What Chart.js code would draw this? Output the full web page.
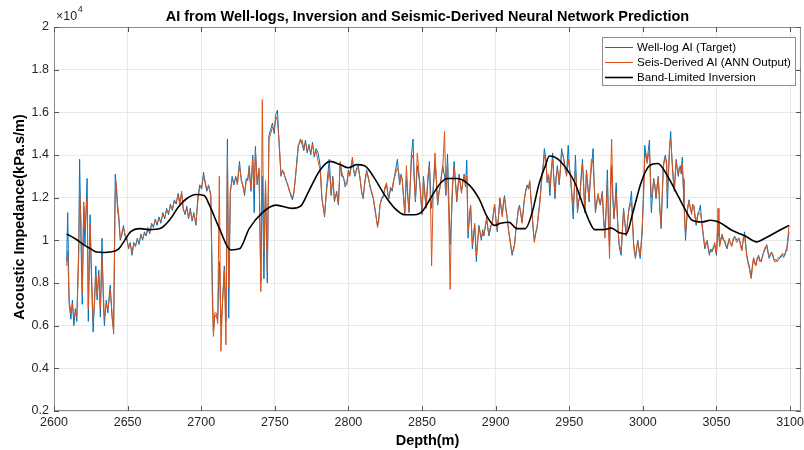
<!DOCTYPE html>
<html>
<head>
<meta charset="utf-8">
<script src="https://cdn.jsdelivr.net/npm/chart.js@4.4.1/dist/chart.umd.min.js"></script>
<style>
  html, body { margin: 0; padding: 0; background: #fff; overflow: hidden; }
  #wrap { width: 804px; height: 450px; overflow: hidden; }
  canvas { display: block; }
</style>
</head>
<body>
<div id="wrap"><canvas id="aiChart" width="808" height="450"></canvas></div>
<script>
// AI values are in units of 1e4 kPa.s/m (axis shows x10^4)
const depth = [
  2608.6, 2609.3, 2610.3, 2611.5, 2612.5, 2613.5, 2614.5, 2615.5, 2616.8, 2617.4,
  2618.3, 2619.2, 2620.2, 2621.0, 2622.5, 2623.3, 2624.5, 2625.5, 2626.6, 2627.5,
  2628.4, 2629.3, 2630.4, 2631.5, 2632.6, 2633.5, 2634.2, 2635.5, 2636.6, 2637.5,
  2638.2, 2639.4, 2640.5, 2641.6, 2642.3, 2643.2, 2644.0, 2645.0, 2646.0, 2647.2,
  2648.2, 2649.5, 2650.6, 2651.8, 2653.0, 2654.2, 2655.4, 2656.6, 2657.8, 2659.0,
  2660.2, 2661.4, 2662.6, 2663.8, 2665.0, 2666.3, 2667.5, 2668.8, 2670.0, 2671.3,
  2672.6, 2673.9, 2675.2, 2676.5, 2677.8, 2679.1, 2680.4, 2681.7, 2683.0, 2684.3,
  2685.5, 2686.7, 2687.8, 2689.0, 2690.2, 2691.4, 2692.6, 2693.8, 2695.0, 2696.4,
  2697.7, 2699.0, 2700.3, 2701.6, 2702.6, 2703.8, 2705.0, 2706.5, 2707.6, 2708.3,
  2709.2, 2710.2, 2711.2, 2712.3, 2713.4, 2714.5, 2715.7, 2716.8, 2717.8, 2718.7,
  2719.8, 2721.0, 2722.2, 2723.4, 2724.6, 2726.0, 2727.2, 2728.3, 2729.4, 2730.6,
  2731.6, 2732.6, 2733.8, 2735.0, 2736.0, 2736.8, 2738.0, 2739.3, 2740.5, 2741.5,
  2742.6, 2743.7, 2744.9, 2746.0, 2747.2, 2748.4, 2749.6, 2750.7, 2751.8, 2753.0,
  2754.2, 2755.2, 2756.2, 2757.4, 2758.6, 2759.8, 2760.8, 2762.0, 2763.0, 2764.0,
  2765.0, 2766.0, 2767.4, 2768.5, 2769.7, 2770.8, 2772.0, 2773.2, 2774.4, 2775.6,
  2776.8, 2778.0, 2779.4, 2780.8, 2782.0, 2783.8, 2785.3, 2787.0, 2788.3, 2789.4,
  2790.5, 2792.0, 2793.2, 2794.4, 2795.5, 2796.6, 2797.8, 2798.9, 2800.0, 2801.0,
  2802.7, 2803.6, 2804.5, 2805.6, 2806.7, 2808.0, 2809.0, 2810.0, 2811.2, 2812.4,
  2813.5, 2814.6, 2815.8, 2816.9, 2818.5, 2819.8, 2820.6, 2821.4, 2822.5, 2823.6,
  2824.8, 2825.9, 2826.8, 2827.5, 2828.6, 2829.7, 2830.6, 2831.5, 2833.3, 2834.2,
  2834.9, 2835.7, 2836.5, 2838.3, 2839.4, 2840.3, 2841.2, 2842.8, 2843.9, 2844.7,
  2845.5, 2846.8, 2848.4, 2850.0, 2851.0, 2852.7, 2854.0, 2855.0, 2856.0, 2856.5,
  2857.6, 2858.8, 2859.7, 2860.6, 2861.5, 2862.4, 2863.2, 2864.0, 2865.3, 2866.2,
  2867.3, 2868.2, 2869.1, 2870.0, 2870.7, 2871.8, 2872.7, 2873.6, 2874.4, 2875.2,
  2876.0, 2876.8, 2877.7, 2878.6, 2879.5, 2880.4, 2881.3, 2882.2, 2883.0, 2884.2,
  2885.0, 2885.8, 2886.9, 2887.8, 2888.7, 2889.5, 2890.3, 2891.2, 2892.0, 2893.0,
  2893.9, 2894.7, 2895.5, 2896.6, 2897.7, 2898.5, 2899.3, 2900.2, 2901.1, 2902.0,
  2902.9, 2903.7, 2904.5, 2905.3, 2906.0, 2907.0, 2907.9, 2908.8, 2909.7, 2910.5,
  2911.2, 2912.0, 2912.8, 2913.7, 2914.6, 2915.4, 2916.2, 2917.1, 2918.0, 2918.8,
  2919.6, 2920.5, 2921.4, 2922.3, 2923.2, 2924.0, 2924.8, 2925.5, 2926.3, 2927.2,
  2928.1, 2929.0, 2930.0, 2930.8, 2931.5, 2932.4, 2933.1, 2934.2, 2935.0, 2936.0,
  2936.9, 2937.8, 2938.7, 2939.5, 2940.3, 2941.1, 2941.9, 2942.6, 2943.2, 2944.0,
  2944.8, 2945.6, 2946.4, 2947.3, 2948.2, 2949.3, 2950.1, 2950.9, 2951.8, 2952.7,
  2953.5, 2954.2, 2955.0, 2955.6, 2956.4, 2957.2, 2958.1, 2959.0, 2959.8, 2960.6,
  2961.7, 2962.6, 2963.5, 2964.3, 2965.1, 2966.2, 2967.0, 2967.8, 2968.7, 2969.6,
  2970.4, 2971.1, 2972.5, 2973.4, 2974.3, 2975.1, 2975.9, 2976.7, 2977.4, 2978.1,
  2978.8, 2979.6, 2980.4, 2981.2, 2981.9, 2982.8, 2983.8, 2984.5, 2985.3, 2986.1,
  2986.9, 2987.8, 2988.7, 2989.6, 2990.5, 2991.4, 2992.3, 2993.0, 2993.7, 2994.4,
  2995.0, 2995.8, 2996.6, 2997.4, 2998.2, 2998.9, 2999.5, 3000.4, 3001.3, 3002.1,
  3002.9, 3003.7, 3004.5, 3005.2, 3005.8, 3006.6, 3007.4, 3008.2, 3009.0, 3009.7,
  3010.5, 3011.5, 3012.4, 3013.2, 3013.9, 3014.6, 3015.3, 3016.2, 3016.6, 3017.4,
  3018.2, 3018.9, 3019.5, 3020.0, 3020.7, 3021.4, 3022.0, 3022.7, 3023.4, 3024.1,
  3024.7, 3025.4, 3026.1, 3026.8, 3027.3, 3027.9, 3028.5, 3029.0, 3029.6, 3030.1,
  3030.7, 3031.3, 3032.2, 3033.1, 3033.8, 3034.6, 3035.4, 3036.2, 3036.9, 3037.6,
  3038.3, 3039.1, 3039.9, 3040.7, 3041.4, 3042.1, 3042.9, 3043.7, 3044.4, 3045.2,
  3046.1, 3047.0, 3047.9, 3048.8, 3049.4, 3050.0, 3050.6, 3051.1, 3051.7, 3052.2,
  3053.0, 3053.8, 3054.7, 3055.6, 3056.4, 3057.2, 3057.9, 3058.7, 3059.6, 3060.5,
  3061.4, 3062.3, 3063.1, 3063.9, 3064.7, 3065.5, 3066.4, 3067.3, 3068.2, 3069.1,
  3069.9, 3070.7, 3071.5, 3072.3, 3073.0, 3073.6, 3074.4, 3075.2, 3076.0, 3076.8,
  3077.7, 3078.6, 3079.5, 3080.4, 3081.3, 3082.2, 3083.2, 3084.2, 3085.0, 3085.8,
  3086.7, 3087.6, 3088.5, 3089.4, 3090.3, 3091.2, 3092.1, 3093.0, 3093.9, 3094.8,
  3095.7, 3096.6, 3097.3, 3097.9, 3098.6, 3099.3
];

const wellAI = [
  0.90, 1.13, 0.70, 0.63, 0.72, 0.60, 0.68, 0.62, 0.98, 1.38,
  1.00, 0.70, 1.16, 0.98, 1.29, 0.62, 1.12, 0.80, 0.57, 0.72,
  0.88, 0.72, 0.86, 0.64, 1.01, 0.72, 0.60, 0.72, 0.66, 0.74,
  0.79, 0.64, 0.58, 1.31, 1.25, 1.14, 1.10, 1.00, 1.03, 1.07,
  1.02, 1.01, 0.96, 0.99, 0.93, 0.99, 0.97, 1.01, 0.98, 1.03,
  1.00, 1.04, 1.02, 1.06, 1.03, 1.08, 1.06, 1.10, 1.07, 1.11,
  1.08, 1.13, 1.10, 1.15, 1.12, 1.17, 1.14, 1.19, 1.17, 1.22,
  1.18, 1.22, 1.15, 1.12, 1.16, 1.10, 1.15, 1.09, 1.13, 1.07,
  1.20, 1.26, 1.24, 1.32, 1.27, 1.23, 1.26, 1.21, 0.80, 0.57,
  0.65, 0.64, 0.63, 0.90, 0.60, 0.71, 0.88, 0.62, 1.475, 0.635,
  1.22, 1.30, 1.26, 1.30, 1.27, 1.37, 1.28, 1.26, 1.21, 1.29,
  1.28, 1.35, 1.23, 1.40, 1.13, 1.44, 1.26, 1.33, 0.80, 1.30,
  0.82, 1.26, 0.80, 1.49, 1.52, 1.55, 1.50, 1.59, 1.61, 1.44,
  1.30, 1.33, 1.31, 1.29, 1.26, 1.24, 1.21, 1.19, 1.23, 1.29,
  1.38, 1.44, 1.475, 1.45, 1.42, 1.47, 1.41, 1.45, 1.40, 1.46,
  1.39, 1.43, 1.41, 1.35, 1.20, 1.11, 1.26, 1.38, 1.21, 1.30,
  1.18, 1.23, 1.165, 1.36, 1.30, 1.30, 1.25, 1.27, 1.33, 1.31,
  1.38, 1.33, 1.30, 1.34, 1.35, 1.28, 1.23, 1.195, 1.28, 1.33,
  1.29, 1.26, 1.22, 1.195, 1.12, 1.07, 1.10, 1.165, 1.19, 1.21,
  1.24, 1.26, 1.22, 1.195, 1.25, 1.23, 1.27, 1.31, 1.38, 1.30,
  1.26, 1.31, 1.29, 1.12, 1.30, 1.20, 1.13, 1.40, 1.475, 1.30,
  1.18, 1.35, 1.27, 1.12, 1.30, 1.15, 1.28, 1.37, 1.20, 1.15,
  1.25, 1.36, 1.28, 1.165, 1.22, 1.26, 1.30, 1.35, 1.30, 1.21,
  1.405, 1.20, 0.98, 1.10, 1.24, 1.37, 1.28, 1.18, 1.25, 1.31,
  1.26, 1.23, 1.27, 1.31, 1.25, 1.375, 1.01, 1.12, 1.165, 0.96,
  1.02, 1.07, 0.90, 1.00, 1.07, 1.03, 1.00, 1.05, 1.02, 1.07,
  1.10, 1.06, 1.02, 1.06, 1.085, 1.13, 1.165, 1.10, 1.04, 1.12,
  1.195, 1.15, 1.12, 1.17, 1.21, 1.15, 1.10, 1.05, 1.00, 0.96,
  0.93, 0.96, 0.98, 1.04, 1.10, 1.14, 1.165, 1.12, 1.085, 1.14,
  1.195, 1.23, 1.26, 1.24, 1.27, 1.20, 1.13, 1.05, 1.00, 1.03,
  1.055, 1.12, 1.18, 1.25, 1.31, 1.36, 1.43, 1.38, 1.27, 1.30,
  1.21, 1.32, 1.41, 1.30, 1.195, 1.29, 1.35, 1.30, 1.26, 1.34,
  1.43, 1.40, 1.38, 1.33, 1.31, 1.445, 1.35, 1.29, 1.20, 1.10,
  1.25, 1.40, 1.25, 1.13, 1.18, 1.21, 1.30, 1.38, 1.25, 1.13,
  1.33, 1.25, 1.18, 1.28, 1.34, 1.43, 1.25, 1.13, 1.18, 1.21,
  1.19, 1.165, 1.23, 1.10, 1.05, 1.15, 1.33, 1.10, 0.97, 1.20,
  1.35, 1.20, 1.10, 1.18, 1.27, 1.10, 0.98, 0.95, 0.93, 1.05,
  1.15, 1.08, 1.02, 1.08, 1.15, 1.18, 1.23, 1.10, 0.98, 0.94,
  0.915, 0.96, 1.00, 0.95, 0.915, 0.98, 1.04, 1.21, 1.445, 1.40,
  1.37, 1.42, 1.47, 1.25, 1.13, 1.22, 1.29, 1.25, 1.195, 1.25,
  1.30, 1.15, 1.055, 1.20, 1.35, 1.38, 1.40, 1.35, 1.15, 1.30,
  1.44, 1.51, 1.42, 1.35, 1.28, 1.23, 1.30, 1.38, 1.33, 1.30,
  1.33, 1.35, 1.31, 1.39, 1.28, 1.18, 1.08, 1.00, 1.08, 1.12,
  1.17, 1.19, 1.15, 1.13, 1.16, 1.165, 1.12, 1.07, 1.10, 1.13,
  1.14, 1.165, 1.09, 1.04, 1.00, 0.96, 0.98, 1.00, 0.96, 0.93,
  0.96, 0.945, 0.97, 0.98, 0.95, 0.93, 1.00, 1.08, 1.02, 0.98,
  1.00, 1.02, 1.00, 1.00, 0.98, 0.96, 0.98, 1.00, 0.99, 0.98,
  1.00, 1.02, 1.01, 1.00, 1.00, 1.005, 0.98, 0.96, 1.00, 1.04,
  0.98, 0.93, 0.90, 0.88, 0.85, 0.83, 0.88, 0.915, 0.90, 0.885,
  0.91, 0.93, 0.91, 0.90, 0.93, 0.945, 0.96, 0.98, 0.95, 0.915,
  0.93, 0.945, 0.92, 0.905, 0.91, 0.90, 0.91, 0.915, 0.93, 0.93,
  0.92, 0.94, 0.95, 0.96, 1.00, 1.04
];

const seisAI = [
  0.88, 0.95, 0.72, 0.66, 0.70, 0.64, 0.66, 0.64, 0.92, 1.23,
  1.10, 0.75, 1.18, 1.05, 1.20, 0.68, 1.08, 0.85, 0.62, 0.70,
  0.84, 0.74, 0.84, 0.68, 0.92, 0.76, 0.64, 0.70, 0.68, 0.72,
  0.77, 0.66, 0.56, 1.22, 1.27, 1.17, 1.12, 1.01, 1.02, 1.06,
  1.03, 1.00, 0.97, 0.98, 0.94, 0.98, 0.98, 1.00, 0.99, 1.02,
  1.01, 1.03, 1.03, 1.05, 1.04, 1.07, 1.07, 1.09, 1.08, 1.10,
  1.09, 1.12, 1.11, 1.14, 1.13, 1.16, 1.15, 1.18, 1.18, 1.21,
  1.17, 1.23, 1.14, 1.13, 1.15, 1.11, 1.14, 1.10, 1.12, 1.08,
  1.18, 1.25, 1.25, 1.30, 1.28, 1.24, 1.25, 1.22, 0.70, 0.55,
  0.66, 0.66, 0.61, 1.30, 0.48, 0.72, 0.86, 0.51, 1.40, 0.78,
  1.24, 1.28, 1.28, 1.29, 1.26, 1.35, 1.29, 1.25, 1.22, 1.28,
  1.29, 1.33, 1.24, 1.38, 1.25, 1.42, 1.27, 1.34, 0.76, 1.66,
  0.95, 1.28, 0.85, 1.47, 1.50, 1.53, 1.52, 1.58, 1.56, 1.46,
  1.31, 1.32, 1.32, 1.28, 1.27, 1.23, 1.22, 1.20, 1.22, 1.30,
  1.36, 1.45, 1.46, 1.47, 1.43, 1.46, 1.42, 1.44, 1.41, 1.45,
  1.40, 1.42, 1.37, 1.33, 1.19, 1.12, 1.24, 1.33, 1.22, 1.29,
  1.19, 1.22, 1.17, 1.37, 1.32, 1.29, 1.27, 1.26, 1.32, 1.30,
  1.39, 1.32, 1.31, 1.33, 1.34, 1.29, 1.22, 1.20, 1.27, 1.32,
  1.30, 1.25, 1.23, 1.20, 1.13, 1.06, 1.09, 1.16, 1.20, 1.20,
  1.25, 1.27, 1.21, 1.20, 1.24, 1.24, 1.28, 1.30, 1.34, 1.32,
  1.27, 1.30, 1.29, 1.13, 1.35, 1.22, 1.14, 1.38, 1.40, 1.28,
  1.19, 1.41, 1.28, 1.13, 1.28, 1.16, 1.30, 1.35, 1.10, 0.88,
  1.22, 1.41, 1.30, 1.17, 1.23, 1.25, 1.31, 1.33, 1.51, 1.22,
  1.36, 1.10, 0.77, 1.12, 1.26, 1.34, 1.27, 1.19, 1.24, 1.30,
  1.27, 1.22, 1.28, 1.30, 1.26, 1.30, 1.04, 1.10, 1.16, 0.98,
  1.03, 1.08, 0.93, 0.99, 1.06, 1.04, 1.01, 1.04, 1.03, 1.06,
  1.11, 1.05, 1.03, 1.07, 1.08, 1.12, 1.17, 1.09, 1.05, 1.11,
  1.20, 1.16, 1.11, 1.18, 1.20, 1.14, 1.11, 1.04, 1.01, 0.97,
  0.94, 0.95, 0.97, 1.05, 1.09, 1.15, 1.16, 1.13, 1.08, 1.15,
  1.20, 1.24, 1.25, 1.25, 1.28, 1.19, 1.12, 1.06, 0.99, 1.04,
  1.06, 1.11, 1.17, 1.24, 1.30, 1.34, 1.40, 1.37, 1.28, 1.31,
  1.25, 1.33, 1.38, 1.29, 1.22, 1.30, 1.33, 1.31, 1.27, 1.33,
  1.40, 1.41, 1.37, 1.34, 1.30, 1.38, 1.34, 1.30, 1.22, 1.16,
  1.24, 1.33, 1.26, 1.14, 1.19, 1.20, 1.29, 1.36, 1.26, 1.14,
  1.32, 1.26, 1.19, 1.30, 1.38, 1.36, 1.26, 1.14, 1.17, 1.22,
  1.18, 1.17, 1.22, 1.08, 1.01, 1.14, 1.27, 1.05, 0.915, 1.30,
  1.475, 1.22, 1.11, 1.17, 1.22, 1.09, 0.99, 0.97, 0.95, 1.04,
  1.14, 1.09, 1.03, 1.09, 1.14, 1.16, 1.18, 1.08, 0.99, 0.95,
  0.92, 0.97, 0.99, 0.96, 0.93, 0.99, 1.05, 1.18, 1.38, 1.41,
  1.36, 1.40, 1.42, 1.30, 1.20, 1.23, 1.28, 1.26, 1.20, 1.26,
  1.29, 1.16, 1.07, 1.22, 1.34, 1.37, 1.39, 1.36, 1.22, 1.32,
  1.45, 1.47, 1.41, 1.36, 1.29, 1.24, 1.31, 1.37, 1.34, 1.31,
  1.34, 1.34, 1.32, 1.36, 1.29, 1.19, 1.10, 1.03, 1.07, 1.13,
  1.16, 1.18, 1.16, 1.12, 1.17, 1.16, 1.11, 1.08, 1.11, 1.12,
  1.13, 1.12, 1.10, 1.05, 1.01, 0.97, 0.99, 0.99, 0.97, 0.94,
  0.95, 0.95, 0.96, 0.99, 0.96, 0.94, 1.05, 1.15, 1.03, 0.97,
  1.01, 1.03, 1.01, 0.99, 0.97, 0.97, 0.99, 1.01, 0.98, 0.97,
  1.01, 1.01, 1.00, 0.99, 1.01, 1.01, 0.97, 0.95, 1.01, 1.02,
  0.97, 0.92, 0.89, 0.87, 0.84, 0.82, 0.87, 0.92, 0.89, 0.88,
  0.92, 0.92, 0.90, 0.91, 0.92, 0.95, 0.97, 0.97, 0.94, 0.92,
  0.94, 0.94, 0.93, 0.90, 0.90, 0.91, 0.92, 0.92, 0.92, 0.94,
  0.93, 0.93, 0.96, 0.97, 1.02, 1.07
];

// band-limited inversion (smooth trend)
const invDepth = [
  2608.6, 2615, 2620, 2625, 2629, 2634, 2638, 2644, 2648, 2652,
  2658.6, 2665, 2672, 2679, 2684.5, 2690, 2696.6, 2702, 2705.6, 2712.4,
  2720, 2726, 2732.6, 2741.6, 2750.7, 2762, 2767.5, 2773, 2780.8, 2787.6,
  2794.4, 2800, 2805.6, 2811, 2816.9, 2824.8, 2831.5, 2838.3, 2845, 2850.7,
  2856, 2862.8, 2867.3, 2874, 2882, 2888.7, 2894.3, 2899.3, 2903.4, 2909,
  2914.6, 2920.2, 2924.8, 2929.3, 2933.8, 2936.5, 2941.4, 2948.2, 2953.8, 2959.4,
  2963.9, 2967.3, 2972.9, 2978.6, 2984.2, 2988.7, 2993.2, 2998.8, 3004.5, 3010.1,
  3016.9, 3022.3, 3027.9, 3033.5, 3040.3, 3045.9, 3051.5, 3060.5, 3069.6, 3077.4,
  3083, 3092, 3099.3
];
const invAI = [
  1.03, 1.005, 0.98, 0.96, 0.945, 0.943, 0.945, 0.96, 1.00, 1.04,
  1.055, 1.05, 1.055, 1.10, 1.156, 1.195, 1.215, 1.21, 1.165, 1.055,
  0.955, 0.96, 1.055, 1.13, 1.165, 1.15, 1.16, 1.23, 1.33, 1.37,
  1.355, 1.34, 1.355, 1.35, 1.30, 1.21, 1.15, 1.12, 1.12, 1.14,
  1.20, 1.27, 1.29, 1.29, 1.26, 1.195, 1.11, 1.07, 1.08, 1.085,
  1.055, 1.055, 1.13, 1.26, 1.35, 1.395, 1.385, 1.335, 1.27, 1.165,
  1.085, 1.05, 1.05, 1.057, 1.035, 1.03, 1.13, 1.27, 1.35, 1.36,
  1.30, 1.23, 1.156, 1.094, 1.086, 1.094, 1.086, 1.047, 1.02, 0.993,
  1.01, 1.044, 1.07
];

const xTicks = [2600, 2650, 2700, 2750, 2800, 2850, 2900, 2950, 3000, 3050, 3100];
const yTicks = [0.2, 0.4, 0.6, 0.8, 1, 1.2, 1.4, 1.6, 1.8, 2];

const seriesNames = ["Well-log AI (Target)", "Seis-Derived AI (ANN Output)", "Band-Limited Inversion"];
const seriesColors = ["#0072BD", "#D95319", "#000000"];

const toPoints = (xs, ys) => xs.map((x, i) => ({ x: x, y: ys[i] }));

const FONT = "'Liberation Sans', Arial, Helvetica, sans-serif";

// draws the MATLAB style box, ticks, labels and legend
const decorPlugin = {
  id: "decor",
  beforeDatasetsDraw(chart) {
    const { ctx, chartArea: a, scales } = chart;
    ctx.save();
    ctx.strokeStyle = "#8c8c8c";
    ctx.lineWidth = 1;
    ctx.beginPath();
    ctx.rect(a.left + 0.5, a.top + 0.5, a.right - a.left - 1, a.bottom - a.top - 1);
    ctx.stroke();
    ctx.strokeStyle = "#555";
    ctx.beginPath();
    xTicks.forEach((v) => {
      const px = Math.round(scales.x.getPixelForValue(v)) + 0.5;
      ctx.moveTo(px, a.bottom);
      ctx.lineTo(px, a.bottom - 5);
      ctx.moveTo(px, a.top);
      ctx.lineTo(px, a.top + 5);
    });
    yTicks.forEach((v) => {
      const py = Math.round(scales.y.getPixelForValue(v)) + 0.5;
      ctx.moveTo(a.left, py);
      ctx.lineTo(a.left + 5, py);
      ctx.moveTo(a.right, py);
      ctx.lineTo(a.right - 5, py);
    });
    ctx.stroke();
    ctx.restore();
  },
  afterDraw(chart) {
    const { ctx, chartArea: a } = chart;
    const cx = (a.left + a.right) / 2;
    ctx.save();

    // title
    ctx.fillStyle = "#000";
    ctx.font = "bold 14.5px " + FONT;
    ctx.textAlign = "center";
    ctx.textBaseline = "middle";
    ctx.fillText("AI from Well-logs, Inversion and Seismic-Derived Neural Network Prediction", cx, 17);

    // axis titles
    ctx.font = "bold 14.5px " + FONT;
    ctx.fillText("Depth(m)", cx, 441);
    ctx.save();
    ctx.translate(20, (a.top + a.bottom) / 2 - 2);
    ctx.rotate(-Math.PI / 2);
    ctx.fillText("Acoustic Impedance(kPa.s/m)", 0, 0);
    ctx.restore();

    // exponent label
    ctx.fillStyle = "#262626";
    ctx.textAlign = "left";
    ctx.textBaseline = "alphabetic";
    ctx.font = "12.5px " + FONT;
    ctx.fillText("\u00d710", 56, 20);
    const w = ctx.measureText("\u00d710").width;
    ctx.font = "9px " + FONT;
    ctx.fillText("4", 56 + w + 0.5, 12);

    // legend box
    const lx = 602, ly = 37, lw = 193, lh = 48;
    ctx.fillStyle = "#fff";
    ctx.fillRect(lx, ly, lw, lh);
    ctx.strokeStyle = "#8c8c8c";
    ctx.lineWidth = 1;
    ctx.strokeRect(lx + 0.5, ly + 0.5, lw, lh);
    ctx.font = "11.6px " + FONT;
    ctx.textBaseline = "middle";
    const rows = [47, 62, 77];
    seriesNames.forEach((name, i) => {
      ctx.strokeStyle = seriesColors[i];
      ctx.lineWidth = i === 2 ? 1.6 : 1;
      ctx.beginPath();
      ctx.moveTo(605, rows[i] + 0.5);
      ctx.lineTo(633, rows[i] + 0.5);
      ctx.stroke();
      ctx.fillStyle = "#000";
      ctx.fillText(name, 637, rows[i] + 1);
    });
    ctx.restore();
  },
};

new Chart(document.getElementById("aiChart"), {
  type: "line",
  data: {
    datasets: [
      {
        label: seriesNames[0],
        data: toPoints(depth, wellAI),
        borderColor: seriesColors[0],
        borderWidth: 1,
        pointRadius: 0,
        tension: 0,
        order: 3,
      },
      {
        label: seriesNames[1],
        data: toPoints(depth, seisAI),
        borderColor: seriesColors[1],
        borderWidth: 1,
        pointRadius: 0,
        tension: 0,
        order: 2,
      },
      {
        label: seriesNames[2],
        data: toPoints(invDepth, invAI),
        borderColor: seriesColors[2],
        borderWidth: 1.6,
        pointRadius: 0,
        cubicInterpolationMode: "monotone",
        order: 1,
      },
    ],
  },
  options: {
    responsive: false,
    animation: false,
    devicePixelRatio: 1,
    layout: { padding: { top: 27, right: 3, bottom: 0, left: 0 } },
    plugins: {
      legend: { display: false },
      title: { display: false },
      tooltip: { enabled: false },
    },
    scales: {
      x: {
        type: "linear",
        min: 2600,
        max: 3107.4,
        afterBuildTicks: (scale) => {
          scale.ticks = xTicks.map((v) => ({ value: v }));
        },
        afterFit: (scale) => {
          scale.height = 39;
        },
        grid: { color: "#e8e8e8", drawTicks: false },
        border: { display: false },
        ticks: {
          padding: 4,
          color: "#262626",
          maxRotation: 0,
          autoSkip: false,
          font: { family: FONT, size: 12.5 },
          callback: (v) => String(v),
        },
      },
      y: {
        min: 0.2,
        max: 2,
        afterBuildTicks: (scale) => {
          scale.ticks = yTicks.map((v) => ({ value: v }));
        },
        afterFit: (scale) => {
          scale.width = 54;
        },
        grid: { color: "#e8e8e8", drawTicks: false },
        border: { display: false },
        ticks: {
          padding: 5,
          color: "#262626",
          autoSkip: false,
          font: { family: FONT, size: 12.5 },
          callback: (v) => String(v),
        },
      },
    },
  },
  plugins: [decorPlugin],
});
</script>
</body>
</html>
